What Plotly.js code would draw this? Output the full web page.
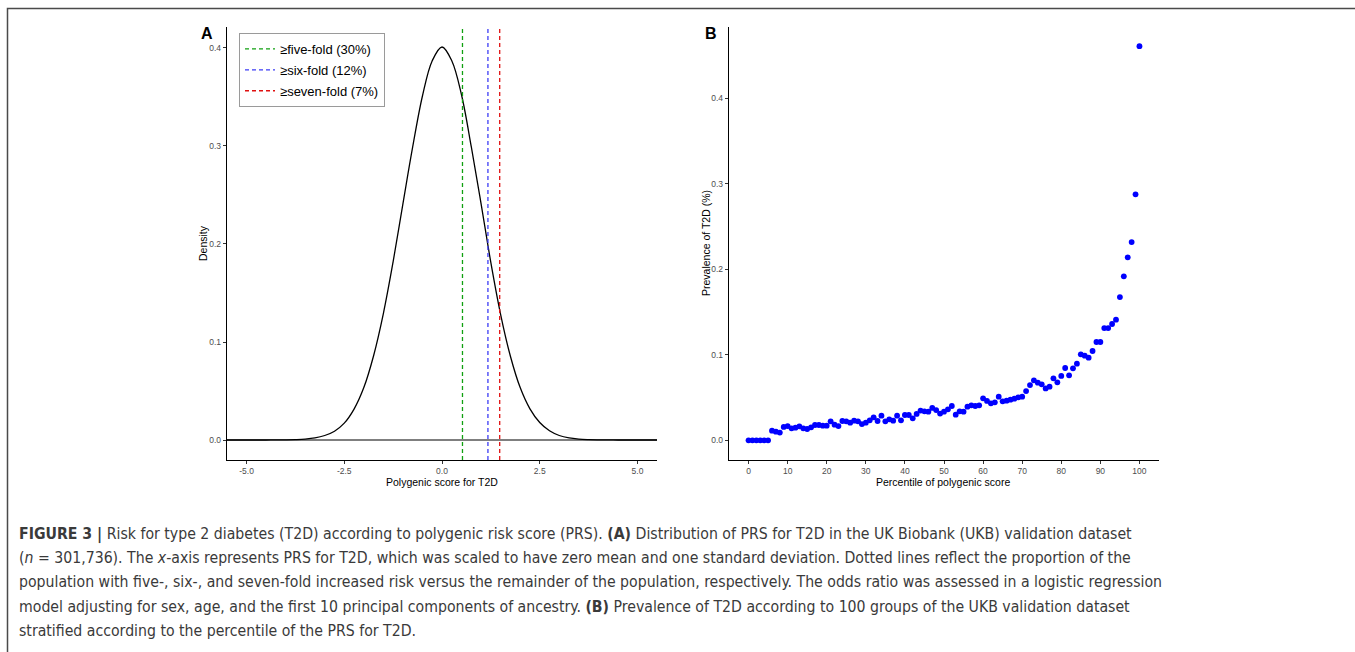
<!DOCTYPE html>
<html>
<head>
<meta charset="utf-8">
<script src="https://cdn.plot.ly/plotly-3.0.1.min.js"></script>
<style>
  html, body { margin: 0; padding: 0; background: #ffffff; }
  #chart { width: 1355px; height: 652px; }
</style>
</head>
<body>
<div id="chart"></div>
<script>
// ---------- Panel A: density of polygenic score ----------
const densityX = [-5.5, -5.25, -5.0, -4.75, -4.5, -4.25, -4.0, -3.75, -3.5, -3.25, -3.0, -2.75, -2.5, -2.25, -2.0, -1.75, -1.5, -1.25, -1.0, -0.75, -0.5, -0.25, 0.0, 0.25, 0.5, 0.75, 1.0, 1.25, 1.5, 1.75, 2.0, 2.25, 2.5, 2.75, 3.0, 3.25, 3.5, 3.75, 4.0, 4.25, 4.5, 4.75, 5.0, 5.25, 5.5];
const densityY = [0, 0, 0, 0, 0, 0.0001, 0.0002, 0.0004, 0.0009, 0.0021, 0.0046, 0.0090, 0.0172, 0.0315, 0.0535, 0.0860, 0.1290, 0.1820, 0.2410, 0.2990, 0.3510, 0.3870, 0.4010, 0.3870, 0.3520, 0.2990, 0.2410, 0.1810, 0.1280, 0.0855, 0.0535, 0.0318, 0.0178, 0.0094, 0.0046, 0.0021, 0.0009, 0.0004, 0.0002, 0.0001, 0, 0, 0, 0, 0];
const thresholdNames = ["≥five-fold (30%)", "≥six-fold (12%)", "≥seven-fold (7%)"];
const thresholdValues = [0.524, 1.175, 1.476];
const thresholdColors = ["#10a010", "#3c3cf5", "#e01010"];
const xTicksA = [-5.0, -2.5, 0.0, 2.5, 5.0];
const yTicksA = [0.0, 0.1, 0.2, 0.3, 0.4];
const xTitleA = "Polygenic score for T2D";
const yTitleA = "Density";

// ---------- Panel B: prevalence by percentile ----------
const percentile = [];
for (let i = 0; i <= 100; i++) percentile.push(i);
const prevalence = [
  0, 0, 0, 0, 0, 0, 0.0113, 0.0101, 0.0090, 0.0156,
  0.0167, 0.0140, 0.0148, 0.0164, 0.0140, 0.0132, 0.0152, 0.0179, 0.0179, 0.0171,
  0.0171, 0.0222, 0.0183, 0.0167, 0.0226, 0.0222, 0.0206, 0.0230, 0.0222, 0.0190,
  0.0206, 0.0234, 0.0269, 0.0226, 0.0288, 0.0222, 0.0245, 0.0230, 0.0288, 0.0234,
  0.0296, 0.0296, 0.0257, 0.0308, 0.0347, 0.0339, 0.0335, 0.0378, 0.0354, 0.0312,
  0.0335, 0.0362, 0.0401, 0.0300, 0.0339, 0.0335, 0.0393, 0.0409, 0.0401, 0.0409,
  0.0491, 0.0460, 0.0432, 0.0444, 0.0510, 0.0456, 0.0463, 0.0475, 0.0487, 0.0502,
  0.0510, 0.0576, 0.0646, 0.0701, 0.0674, 0.0654, 0.0607, 0.0627, 0.0724, 0.0678,
  0.0752, 0.0845, 0.0759, 0.0841, 0.0896, 0.1005, 0.0989, 0.0966, 0.1044, 0.1149,
  0.1149, 0.1312, 0.1312, 0.1359, 0.1410, 0.1674, 0.1916, 0.2138, 0.2317, 0.2875,
  0.4606
];
const xTicksB = [0, 10, 20, 30, 40, 50, 60, 70, 80, 90, 100];
const yTicksB = [0.0, 0.1, 0.2, 0.3, 0.4];
const xTitleB = "Percentile of polygenic score";
const yTitleB = "Prevalence of T2D (%)";

const captionLines = [
  "<b>FIGURE 3 |</b> Risk for type 2 diabetes (T2D) according to polygenic risk score (PRS). <b>(A)</b> Distribution of PRS for T2D in the UK Biobank (UKB) validation dataset",
  "(<i>n</i> = 301,736). The <i>x</i>-axis represents PRS for T2D, which was scaled to have zero mean and one standard deviation. Dotted lines reflect the proportion of the",
  "population with five-, six-, and seven-fold increased risk versus the remainder of the population, respectively. The odds ratio was assessed in a logistic regression",
  "model adjusting for sex, age, and the first 10 principal components of ancestry. <b>(B)</b> Prevalence of T2D according to 100 groups of the UKB validation dataset",
  "stratified according to the percentile of the PRS for T2D."
];

// ---------- geometry ----------
const W = 1355, H = 652;
const px = v => v / W;
const py = v => 1 - v / H;
const yRangeA = [-0.0204, 0.4218];
const yRangeB = [-0.023, 0.483];

const traces = [];
traces.push({
  x: densityX, y: densityY, type: 'scatter', mode: 'lines',
  line: { color: '#000000', width: 1.3, shape: 'spline', smoothing: 1 },
  showlegend: false, xaxis: 'x', yaxis: 'y', hoverinfo: 'skip'
});
for (let i = 0; i < thresholdValues.length; i++) {
  traces.push({
    x: [thresholdValues[i], thresholdValues[i]], y: yRangeA,
    type: 'scatter', mode: 'lines', name: thresholdNames[i],
    legendgroup: 'g' + i,
    line: { color: thresholdColors[i], width: 1.3, dash: '4px,3px' },
    xaxis: 'x', yaxis: 'y', hoverinfo: 'skip'
  });
}
traces.push({
  x: percentile, y: prevalence, type: 'scatter', mode: 'markers',
  marker: { color: '#0000ff', size: 5.8 },
  showlegend: false, xaxis: 'x2', yaxis: 'y2', hoverinfo: 'skip'
});

const tickFont = { family: 'Liberation Sans, Arial, sans-serif', size: 8.5, color: '#4d4d4d' };
const titleFont = { family: 'Liberation Sans, Arial, sans-serif', size: 10.5, color: '#000000' };
const axisCommon = {
  showgrid: false, zeroline: false, showline: true, linecolor: '#000000', linewidth: 1.2,
  ticks: 'outside', ticklen: 3, tickwidth: 1, tickcolor: '#333333',
  tickfont: tickFont, automargin: false, fixedrange: true
};

const annotations = [
  { text: '<b>A</b>', x: px(207), y: py(33), xref: 'paper', yref: 'paper', showarrow: false,
    font: { family: 'Liberation Sans, Arial, sans-serif', size: 16, color: '#000' }, xanchor: 'center', yanchor: 'middle' },
  { text: '<b>B</b>', x: px(711), y: py(33), xref: 'paper', yref: 'paper', showarrow: false,
    font: { family: 'Liberation Sans, Arial, sans-serif', size: 16, color: '#000' }, xanchor: 'center', yanchor: 'middle' },
  // axis titles
  { text: xTitleA, x: px(442), y: py(481.5), xref: 'paper', yref: 'paper', showarrow: false,
    font: titleFont, xanchor: 'center', yanchor: 'middle' },
  { text: yTitleA, x: px(203), y: py(243), xref: 'paper', yref: 'paper', showarrow: false,
    font: titleFont, xanchor: 'center', yanchor: 'middle', textangle: -90 },
  { text: xTitleB, x: px(943), y: py(481.5), xref: 'paper', yref: 'paper', showarrow: false,
    font: titleFont, xanchor: 'center', yanchor: 'middle' },
  { text: yTitleB, x: px(706), y: py(243), xref: 'paper', yref: 'paper', showarrow: false,
    font: titleFont, xanchor: 'center', yanchor: 'middle', textangle: -90 }
];
captionLines.forEach((t, i) => {
  annotations.push({
    text: t, x: px(17), y: py(533.5 + 24.2 * i), xref: 'paper', yref: 'paper',
    showarrow: false, xanchor: 'left', yanchor: 'middle', align: 'left',
    font: { family: 'Liberation Sans Narrow, DejaVu Sans Condensed, Arial Narrow, sans-serif', size: 15.7, color: '#3a3a3a' }
  });
});

const layout = {
  width: W, height: H,
  margin: { l: 0, r: 0, t: 0, b: 0, pad: 0 },
  paper_bgcolor: '#ffffff', plot_bgcolor: '#ffffff',
  showlegend: true,
  legend: {
    x: px(239), y: py(33), xanchor: 'left', yanchor: 'top',
    bordercolor: '#9a9a9a', borderwidth: 1, bgcolor: '#ffffff',
    font: { family: 'Liberation Sans, Arial, sans-serif', size: 13, color: '#000' },
    traceorder: 'grouped', tracegroupgap: 1
  },
  xaxis: Object.assign({}, axisCommon, {
    domain: [px(227), px(657)], range: [-5.5, 5.5], anchor: 'y',
    tickvals: xTicksA, ticktext: xTicksA.map(v => v.toFixed(1))
  }),
  yaxis: Object.assign({}, axisCommon, {
    domain: [py(460), py(26.6)], range: yRangeA, anchor: 'x',
    tickvals: yTicksA, ticktext: yTicksA.map(v => v.toFixed(1))
  }),
  xaxis2: Object.assign({}, axisCommon, {
    domain: [px(729), px(1159)], range: [-5, 105], anchor: 'y2',
    tickvals: xTicksB, ticktext: xTicksB.map(v => String(v))
  }),
  yaxis2: Object.assign({}, axisCommon, {
    domain: [py(460), py(27)], range: yRangeB, anchor: 'x2',
    tickvals: yTicksB, ticktext: yTicksB.map(v => v.toFixed(1))
  }),
  shapes: [
    { type: 'line', xref: 'x domain', yref: 'y', x0: 0, x1: 1, y0: 0, y1: 0,
      line: { color: '#000000', width: 1.2 } },
    { type: 'path', xref: 'paper', yref: 'paper',
      path: `M ${px(7.5)} ${py(652)} L ${px(7.5)} ${py(8.5)} L ${px(1355)} ${py(8.5)}`,
      line: { color: '#4a4a4a', width: 1.5 } }
  ],
  annotations: annotations
};

Plotly.newPlot('chart', traces, layout, { staticPlot: true, displayModeBar: false });
</script>
</body>
</html>
